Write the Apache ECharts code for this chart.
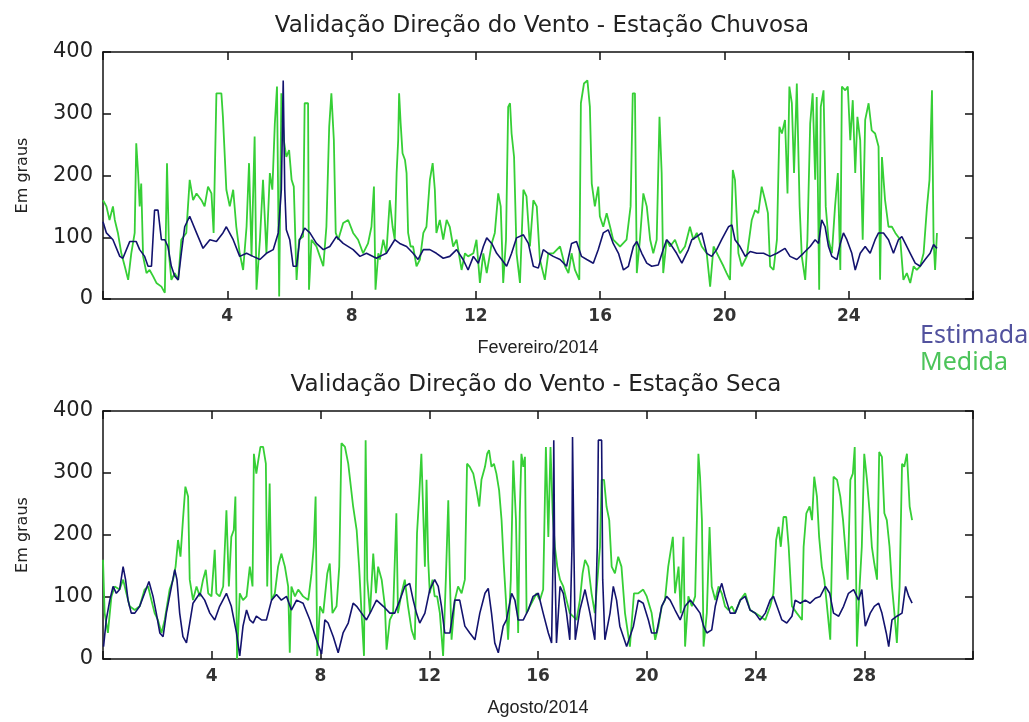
<!DOCTYPE html>
<html>
<head>
<meta charset="utf-8">
<script src="https://cdn.jsdelivr.net/npm/echarts@6/dist/echarts.min.js"></script>
<style>
html,body{margin:0;padding:0;background:#fff;}
#chart{width:1029px;height:722px;}
</style>
</head>
<body>
<div id="chart"></div>
<script>
// ---------- DATA (day of month, wind direction in degrees) ----------
const titleTop = 'Validação Direção do Vento - Estação Chuvosa';
const titleBottom = 'Validação Direção do Vento - Estação Seca';
const xNameTop = 'Fevereiro/2014';
const xNameBottom = 'Agosto/2014';
const yName = 'Em graus';
const seriesNames = ['Estimada', 'Medida'];
const febTicks = [4, 8, 12, 16, 20, 24];
const augTicks = [4, 8, 12, 16, 20, 24, 28];
const yTicks = [0, 100, 200, 300, 400];

const febEst = [[0.00,125],[0.11,107],[0.32,96],[0.54,69],[0.64,66],[0.86,93],[1.07,93],[1.18,80],[1.34,69],[1.45,53],[1.56,53],[1.66,144],[1.77,144],[1.88,96],[1.99,96],[2.09,85],[2.20,53],[2.31,37],[2.42,31],[2.52,74],[2.63,117],[2.79,134],[3.01,107],[3.22,82],[3.44,96],[3.65,93],[3.86,107],[3.97,117],[4.19,96],[4.40,69],[4.62,74],[4.83,69],[5.05,64],[5.26,74],[5.48,80],[5.64,107],[5.74,177],[5.80,354],[5.85,177],[5.90,112],[6.01,96],[6.12,53],[6.23,53],[6.33,96],[6.49,115],[6.66,107],[6.87,90],[7.09,80],[7.30,85],[7.51,101],[7.73,90],[8.05,80],[8.27,69],[8.48,74],[8.80,66],
[8.91,69],[9.12,74],[9.39,96],[9.55,90],[9.77,85],[9.98,74],[10.14,64],[10.31,80],[10.52,80],[10.73,74],[10.95,66],[11.16,69],[11.38,80],[11.59,64],[11.75,47],[11.92,69],[12.08,58],[12.24,85],[12.35,99],[12.51,90],[12.67,74],[12.83,64],[12.99,53],[13.15,74],[13.31,99],[13.53,104],[13.69,90],[13.85,53],[14.01,50],[14.17,80],[14.33,74],[14.49,69],[14.71,64],[14.92,53],[15.08,90],[15.24,93],[15.40,69],[15.57,64],[15.78,58],[15.94,80],[16.10,107],[16.26,112],[16.42,90],[16.59,74],[16.75,47],[16.91,53],[17.07,85],[17.18,93],[17.34,74],[17.50,58],[17.66,53],[17.87,55],[18.03,80],[18.14,96],
[18.25,90],[18.46,74],[18.63,58],[18.84,80],[18.95,96],[19.11,101],[19.27,107],[19.43,74],[19.59,69],[19.75,80],[19.91,96],[20.13,117],[20.24,120],[20.34,96],[20.50,85],[20.67,69],[20.83,77],[21.04,74],[21.26,74],[21.47,69],[21.69,74],[21.95,82],[22.11,69],[22.33,64],[22.54,74],[22.76,85],[22.92,96],[23.03,90],[23.13,128],[23.24,117],[23.35,85],[23.46,69],[23.62,64],[23.73,90],[23.83,107],[23.94,96],[24.10,74],[24.21,47],[24.37,74],[24.53,85],[24.69,74],[24.85,96],[24.96,107],[25.12,107],[25.28,96],[25.44,74],[25.60,96],[25.71,101],[25.82,90],[25.98,74],[26.14,58],[26.30,53],[26.46,64],[26.62,74],[26.73,88],[26.84,82]];

const febMed = [[0.00,160],[0.11,150],[0.21,128],[0.32,150],[0.38,128],[0.48,107],[0.59,74],[0.70,53],[0.81,31],[0.91,74],[1.02,107],[1.07,252],[1.13,204],[1.18,150],[1.23,187],[1.29,69],[1.40,42],[1.50,47],[1.61,37],[1.72,26],[1.88,20],[1.99,10],[2.06,220],[2.13,69],[2.20,31],[2.31,42],[2.42,31],[2.52,96],[2.68,107],[2.79,193],[2.90,160],[3.01,171],[3.17,160],[3.27,150],[3.38,182],[3.49,171],[3.56,107],[3.65,333],[3.81,333],[3.86,295],[3.97,177],[4.08,150],[4.19,177],[4.29,117],[4.40,74],[4.51,47],[4.62,117],[4.70,220],[4.78,69],[4.88,263],[4.94,15],[5.05,96],[5.15,193],[5.26,74],[5.37,204],[5.45,177],[5.53,284],[5.60,344],[5.67,4],[5.74,333],[5.82,257],[5.90,230],[5.99,241],[6.07,193],[6.14,182],[6.23,31],[6.31,96],[6.44,101],[6.49,317],[6.60,317],[6.63,15],[6.71,96],[6.87,85],[6.98,69],[7.09,53],[7.19,117],[7.28,279],[7.35,333],[7.43,257],[7.49,107],[7.57,96],[7.73,123],[7.89,128],[8.05,107],[8.21,96],[8.37,74],[8.53,90],[8.64,117],[8.72,182],[8.77,15],[8.86,74],
[8.91,64],[9.02,96],[9.12,74],[9.23,160],[9.32,117],[9.39,96],[9.45,204],[9.50,257],[9.53,333],[9.58,284],[9.64,236],[9.72,225],[9.77,204],[9.82,107],[9.90,85],[9.98,85],[10.09,53],[10.20,64],[10.31,107],[10.41,117],[10.52,193],[10.61,220],[10.68,177],[10.73,107],[10.84,128],[10.95,96],[11.06,128],[11.16,117],[11.27,85],[11.38,96],[11.54,47],[11.65,74],[11.75,69],[11.92,74],[12.02,96],[12.13,26],[12.24,74],[12.35,42],[12.51,90],[12.61,107],[12.72,171],[12.80,150],[12.88,26],[12.97,96],[13.04,311],[13.10,317],[13.15,268],[13.23,230],[13.31,74],[13.42,26],[13.53,177],[13.63,166],[13.74,85],[13.85,160],[13.96,150],[14.06,64],[14.22,31],[14.33,74],[14.49,74],[14.71,85],[14.87,53],[14.98,42],[15.08,74],[15.19,47],[15.33,31],[15.38,317],[15.48,349],[15.59,354],[15.67,311],[15.73,187],[15.83,150],[15.94,182],[15.99,134],[16.10,117],[16.21,139],[16.32,117],[16.42,96],[16.64,85],[16.85,96],[16.98,150],[17.05,333],[17.12,333],[17.18,42],[17.28,96],[17.39,171],[17.50,150],[17.61,96],[17.71,74],[17.82,96],[17.91,295],[17.98,204],[18.03,42],[18.14,96],
[18.25,85],[18.41,96],[18.57,74],[18.73,85],[18.89,117],[19.00,96],[19.11,107],[19.27,85],[19.43,74],[19.54,20],[19.65,85],[19.81,69],[19.97,53],[20.07,42],[20.18,31],[20.27,209],[20.34,193],[20.45,74],[20.56,53],[20.72,69],[20.88,128],[20.99,144],[21.09,139],[21.20,182],[21.31,160],[21.40,139],[21.47,53],[21.58,47],[21.69,96],[21.77,279],[21.85,268],[21.95,290],[22.03,171],[22.09,344],[22.17,317],[22.24,204],[22.33,349],[22.42,150],[22.49,69],[22.60,31],[22.67,96],[22.76,284],[22.84,333],[22.92,193],[22.97,327],[23.05,15],[23.10,311],[23.19,338],[23.26,150],[23.35,96],[23.46,74],[23.56,150],[23.65,204],[23.73,47],[23.78,344],[23.89,338],[23.97,344],[24.05,257],[24.13,322],[24.21,204],[24.28,295],[24.37,257],[24.45,96],[24.53,290],[24.64,317],[24.74,273],[24.85,268],[24.96,247],[25.01,31],[25.07,230],[25.17,160],[25.28,117],[25.39,117],[25.50,107],[25.66,96],[25.76,31],[25.87,42],[25.98,26],[26.09,53],[26.19,47],[26.30,53],[26.41,74],[26.52,150],[26.60,193],[26.68,338],[26.73,96],[26.78,47],[26.84,107]];

const augEst = [[0.02,20],[0.12,63],[0.25,95],[0.37,117],[0.49,106],[0.61,112],[0.74,149],[0.83,128],[0.92,95],[1.04,74],[1.17,74],[1.35,85],[1.53,106],[1.69,125],[1.84,101],[1.96,74],[2.09,42],[2.21,36],[2.33,74],[2.52,117],[2.64,144],[2.72,128],[2.82,74],[2.94,36],[3.07,26],[3.19,58],[3.31,90],[3.56,106],[3.74,95],[3.93,74],[4.11,63],[4.29,85],[4.54,106],[4.72,85],[4.91,42],[5.03,5],[5.15,53],[5.28,79],[5.40,63],[5.52,58],[5.64,69],[5.83,63],[6.01,63],[6.20,95],[6.38,104],[6.56,95],[6.75,101],[6.93,79],[7.12,95],[7.36,90],[7.61,63],[7.85,31],[8.04,8],[8.16,63],[8.28,58],[8.47,36],[8.65,10],[8.83,42],[9.02,58],[9.20,90],[9.33,85],[9.51,74],[9.69,63],[9.88,79],[10.06,95],[10.31,85],[10.55,74],
[10.73,74],[10.92,95],[11.10,117],[11.28,122],[11.41,95],[11.53,74],[11.65,58],[11.84,74],[12.02,112],[12.20,128],[12.33,117],[12.45,85],[12.57,42],[12.76,42],[12.94,95],[13.12,95],[13.31,53],[13.49,42],[13.68,31],[13.86,74],[14.05,106],[14.17,114],[14.29,74],[14.41,26],[14.54,10],[14.72,53],[14.84,63],[15.03,106],[15.15,95],[15.27,63],[15.46,63],[15.64,79],[15.82,101],[16.01,106],[16.19,74],[16.38,42],[16.50,26],[16.56,181],[16.58,353],[16.61,181],[16.68,26],[16.81,117],[16.93,106],[17.05,74],[17.17,31],[17.25,181],[17.27,358],[17.32,181],[17.37,31],[17.54,79],[17.73,112],[17.91,74],[18.09,31],[18.18,181],[18.22,353],[18.34,353],[18.38,128],[18.46,31],[18.65,74],[18.77,117],[18.89,95],[19.01,53],[19.26,20],[19.51,53],[19.69,95],[19.87,90],[20.06,63],[20.18,42],[20.36,42],[20.55,85],[20.73,101],
[20.86,95],[21.04,79],[21.23,63],[21.41,85],[21.60,95],[21.78,85],[21.96,74],[22.09,53],[22.21,42],[22.39,47],[22.52,85],[22.64,106],[22.76,122],[22.88,101],[23.07,74],[23.25,74],[23.44,95],[23.62,101],[23.80,79],[23.99,74],[24.17,63],[24.36,74],[24.54,95],[24.66,101],[24.79,85],[24.97,63],[25.15,58],[25.34,69],[25.46,95],[25.65,90],[25.83,95],[26.01,90],[26.20,98],[26.38,101],[26.57,117],[26.73,106],[26.87,74],[27.06,69],[27.24,85],[27.42,106],[27.61,112],[27.79,95],[27.91,112],[28.04,53],[28.22,74],[28.37,85],[28.53,90],[28.65,74],[28.81,42],[28.90,20],[29.02,63],[29.20,69],[29.39,74],[29.52,117],[29.64,101],[29.76,90]];

const augMed = [[0.00,160],[0.06,74],[0.18,42],[0.31,101],[0.43,117],[0.61,112],[0.74,128],[0.86,106],[0.98,85],[1.17,79],[1.35,85],[1.53,112],[1.66,117],[1.78,95],[1.90,74],[2.02,63],[2.15,42],[2.27,63],[2.45,112],[2.58,128],[2.67,149],[2.76,192],[2.85,165],[2.94,224],[3.03,278],[3.13,262],[3.19,128],[3.31,95],[3.44,117],[3.56,101],[3.68,128],[3.78,144],[3.87,106],[3.99,101],[4.11,176],[4.17,106],[4.29,101],[4.42,117],[4.54,240],[4.63,117],[4.72,197],[4.81,208],[4.87,262],[4.93,0],[5.03,106],[5.15,95],[5.28,101],[5.40,149],[5.50,117],[5.55,331],[5.64,299],[5.71,320],[5.79,342],[5.89,342],[5.99,315],[6.04,117],[6.13,283],[6.20,95],[6.32,106],[6.44,149],[6.56,170],[6.69,149],[6.81,117],[6.87,10],[6.93,117],[7.06,101],[7.18,112],[7.36,101],[7.55,95],[7.67,138],[7.75,181],[7.82,262],[7.88,5],[7.98,85],[8.10,74],[8.25,138],[8.34,154],[8.44,74],[8.59,85],[8.69,149],[8.77,348],[8.90,342],[9.02,315],[9.20,246],[9.33,208],[9.42,149],[9.51,74],[9.60,5],[9.66,353],[9.72,128],[9.82,74],[9.94,170],[10.04,106],[10.12,149],[10.25,128],[10.37,85],[10.43,15],[10.55,63],
[10.67,74],[10.79,235],[10.85,74],[10.98,106],[11.10,128],[11.22,85],[11.35,47],[11.47,31],[11.55,203],[11.63,262],[11.71,331],[11.78,331],[11.84,149],[11.90,289],[11.96,160],[12.02,106],[12.12,128],[12.20,101],[12.29,101],[12.39,74],[12.51,5],[12.61,128],[12.70,256],[12.76,128],[12.82,31],[12.94,95],[13.06,117],[13.19,106],[13.31,128],[13.39,315],[13.49,310],[13.62,299],[13.74,272],[13.84,246],[13.92,289],[14.05,310],[14.13,331],[14.20,337],[14.29,310],[14.38,315],[14.47,299],[14.57,272],[14.66,224],[14.74,154],[14.82,95],[14.90,31],[15.00,128],[15.09,320],[15.19,224],[15.27,42],[15.33,235],[15.39,331],[15.46,310],[15.52,326],[15.58,74],[15.70,85],[15.82,95],[15.95,106],[16.07,95],[16.19,112],[16.29,342],[16.38,197],[16.46,342],[16.54,235],[16.62,181],[16.71,149],[16.81,128],[16.93,117],[17.05,95],[17.17,74],[17.42,63],[17.54,95],[17.64,138],[17.73,160],[17.85,149],[17.97,106],[18.09,74],[18.28,181],[18.34,289],[18.43,289],[18.52,246],[18.62,224],[18.71,149],[18.83,138],[18.95,165],[19.07,149],[19.20,74],[19.38,20],[19.53,106],[19.69,106],[19.87,112],[20.00,101],[20.18,74],[20.31,31],[20.43,53],[20.55,85],[20.67,95],[20.79,149],
[20.96,197],[21.04,106],[21.17,149],[21.25,74],[21.35,197],[21.41,20],[21.53,101],[21.66,85],[21.78,101],[21.90,331],[21.96,294],[22.03,224],[22.09,20],[22.21,74],[22.31,213],[22.39,117],[22.52,95],[22.64,117],[22.76,106],[22.88,85],[23.01,79],[23.13,85],[23.25,74],[23.44,95],[23.62,106],[23.80,79],[23.99,74],[24.17,69],[24.36,63],[24.54,85],[24.66,106],[24.76,192],[24.85,213],[24.93,181],[25.03,229],[25.13,229],[25.22,181],[25.34,85],[25.52,74],[25.71,63],[25.77,181],[25.87,235],[25.99,246],[26.08,224],[26.16,294],[26.26,262],[26.34,197],[26.44,149],[26.53,128],[26.63,85],[26.75,31],[26.87,294],[27.00,289],[27.12,262],[27.22,224],[27.30,181],[27.39,128],[27.49,289],[27.58,299],[27.65,342],[27.73,20],[27.83,117],[27.91,181],[28.00,331],[28.10,289],[28.20,235],[28.28,181],[28.37,154],[28.47,128],[28.55,334],[28.65,326],[28.74,235],[28.83,224],[28.93,181],[29.02,117],[29.11,74],[29.20,26],[29.30,117],[29.39,315],[29.47,310],[29.57,331],[29.67,246],[29.76,224]];

// ---------- STYLE ----------
const C_EST = '#13136e';
const C_MED = '#36cf36';
const AXIS = '#111';
const TXT = '#222';
const FONT = 'DejaVu Sans';

function xAxes(gridIndex, max, ticks, name) {
  return [{
    gridIndex, type: 'value', min: 0, max: max, interval: 4, position: 'bottom',
    axisLine: {show: true, onZero: false, lineStyle: {color: AXIS, width: 1.5}},
    axisTick: {show: true, inside: true, length: 8, lineStyle: {color: AXIS, width: 1.5}},
    axisLabel: {
      show: true, margin: 9, color: '#333', fontSize: 17, fontFamily: FONT, fontWeight: 'bold',
      formatter: v => (ticks.indexOf(v) >= 0 ? String(v) : '')
    },
    splitLine: {show: false},
    name: name, nameLocation: 'middle', nameGap: 40,
    nameTextStyle: {color: TXT, fontSize: 18, fontFamily: 'Liberation Sans'}
  }, {
    gridIndex, type: 'value', min: 0, max: max, interval: 4, position: 'top',
    axisLine: {show: true, onZero: false, lineStyle: {color: AXIS, width: 1.5}},
    axisTick: {show: true, inside: true, length: 8, lineStyle: {color: AXIS, width: 1.5}},
    axisLabel: {show: false}, splitLine: {show: false}
  }];
}
function yAxes(gridIndex) {
  return [{
    gridIndex, type: 'value', min: 0, max: 400, interval: 100, position: 'left',
    axisLine: {show: true, onZero: false, lineStyle: {color: AXIS, width: 1.5}},
    axisTick: {show: true, inside: true, length: 8, lineStyle: {color: AXIS, width: 1.5}},
    axisLabel: {
      show: true, margin: 10, color: TXT, fontSize: 21, fontFamily: FONT,
      formatter: v => (yTicks.indexOf(v) >= 0 ? String(v) : '')
    },
    splitLine: {show: false},
    name: yName, nameLocation: 'middle', nameGap: 72,
    nameTextStyle: {color: TXT, fontSize: 16, fontFamily: FONT}
  }, {
    gridIndex, type: 'value', min: 0, max: 400, interval: 100, position: 'right',
    axisLine: {show: true, onZero: false, lineStyle: {color: AXIS, width: 1.5}},
    axisTick: {show: true, inside: true, length: 8, lineStyle: {color: AXIS, width: 1.5}},
    axisLabel: {show: false}, splitLine: {show: false}
  }];
}

function line(name, data, xi, yi, color, z, w) {
  return {
    name, type: 'line', data, xAxisIndex: xi, yAxisIndex: yi,
    showSymbol: false, symbol: 'none', z: z,
    lineStyle: {color, width: w}, itemStyle: {color}
  };
}

const chart = echarts.init(document.getElementById('chart'), null, {renderer: 'canvas'});
chart.setOption({
  animation: false,
  backgroundColor: '#fff',
  title: [
    {text: titleTop, left: 537, top: 10, textAlign: 'center',
     textStyle: {color: TXT, fontSize: 23, fontWeight: 'normal', fontFamily: FONT}},
    {text: titleBottom, left: 531, top: 369, textAlign: 'center',
     textStyle: {color: TXT, fontSize: 23, fontWeight: 'normal', fontFamily: FONT}}
  ],
  legend: {
    orient: 'vertical', left: 910, top: 318, itemWidth: 0, itemHeight: 0, itemGap: 2,
    icon: 'rect', selectedMode: false,
    textStyle: {fontSize: 25, fontFamily: 'Noto Sans'},
    data: [
      {name: seriesNames[0], textStyle: {color: '#52529e'}},
      {name: seriesNames[1], textStyle: {color: '#4cc45a'}}
    ]
  },
  grid: [
    {left: 103, top: 52, width: 870, height: 247, containLabel: false},
    {left: 103, top: 411, width: 870, height: 248, containLabel: false}
  ],
  xAxis: [...xAxes(0, 28, febTicks, xNameTop), ...xAxes(1, 32, augTicks, xNameBottom)],
  yAxis: [...yAxes(0), ...yAxes(1)],
  series: [
    line(seriesNames[1], febMed, 0, 0, C_MED, 2, 1.8),
    line(seriesNames[0], febEst, 0, 0, C_EST, 3, 1.6),
    line(seriesNames[1], augMed, 2, 2, C_MED, 2, 1.8),
    line(seriesNames[0], augEst, 2, 2, C_EST, 3, 1.6)
  ]
});
</script>
</body>
</html>
